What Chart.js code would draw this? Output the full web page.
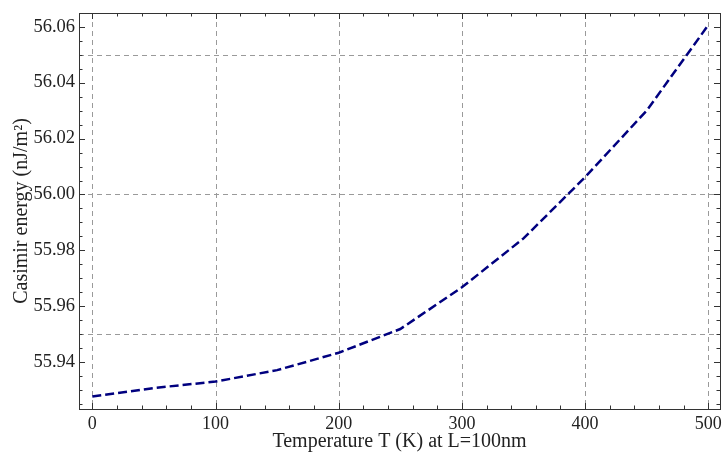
<!DOCTYPE html>
<html>
<head>
<meta charset="utf-8">
<script src="https://cdn.jsdelivr.net/npm/chart.js@4.4.0/dist/chart.umd.min.js"></script>
<style>
  html, body { margin: 0; padding: 0; background: #fff; }
</style>
</head>
<body>
<canvas id="chart" width="723" height="457"></canvas>
<script>
// values
const temps = [0, 50, 100, 150, 200, 250, 300, 350, 400, 450, 500]
const energy = [55.9278, 55.9308, 55.9331, 55.9372, 55.9434, 55.9519, 55.9668, 55.9843, 56.0062, 56.0300, 56.0606]
const xTicks = [0, 100, 200, 300, 400, 500]
const yTicks = [55.94, 55.96, 55.98, 56.00, 56.02, 56.04, 56.06]
const xGrid = [0, 100, 200, 300, 400, 500]
const yGrid = [55.95, 56.00, 56.05]

const serif = "'Liberation Serif', 'DejaVu Serif', serif"

// dashed grid + frame with inward ticks, drawn through the chart's scales
const framePlugin = {
  id: 'frame',
  beforeDatasetsDraw(chart) {
    const ctx = chart.ctx
    const a = chart.chartArea
    const x = chart.scales.x
    const y = chart.scales.y
    ctx.save()
    ctx.strokeStyle = '#9a9a9a'
    ctx.lineWidth = 1
    ctx.setLineDash([5, 4])
    xGrid.forEach(v => {
      const px = Math.round(x.getPixelForValue(v)) + 0.5
      ctx.beginPath(); ctx.moveTo(px, a.top); ctx.lineTo(px, a.bottom); ctx.stroke()
    })
    yGrid.forEach(v => {
      const py = Math.round(y.getPixelForValue(v)) + 0.5
      ctx.beginPath(); ctx.moveTo(a.left, py); ctx.lineTo(a.right, py); ctx.stroke()
    })
    ctx.restore()
  },
  afterDraw(chart) {
    const ctx = chart.ctx
    const a = chart.chartArea
    const x = chart.scales.x
    const y = chart.scales.y
    ctx.save()
    ctx.strokeStyle = '#333'
    ctx.lineWidth = 1
    ctx.setLineDash([])
    ctx.strokeRect(Math.round(a.left) + 0.5, Math.round(a.top) + 0.5, Math.round(a.right - a.left), Math.round(a.bottom - a.top))
    ctx.beginPath()
    for (let v = 0; v <= 500; v += 20) {
      const px = Math.round(x.getPixelForValue(v)) + 0.5
      const len = v % 100 === 0 ? 6 : 3.5
      ctx.moveTo(px, a.bottom); ctx.lineTo(px, a.bottom - len)
      ctx.moveTo(px, a.top); ctx.lineTo(px, a.top + len)
    }
    for (let i = 0; i <= 28; i++) {
      const v = 55.925 + i * 0.005
      const py = Math.round(y.getPixelForValue(v)) + 0.5
      const len = i % 4 === 3 ? 6 : 3.5
      ctx.moveTo(a.left, py); ctx.lineTo(a.left + len, py)
      ctx.moveTo(a.right, py); ctx.lineTo(a.right - len, py)
    }
    ctx.stroke()
    ctx.restore()
  }
}

new Chart(document.getElementById('chart'), {
  type: 'line',
  data: {
    datasets: [{
      data: temps.map((t, i) => ({ x: t, y: energy[i] })),
      borderColor: '#00007f',
      borderWidth: 2.5,
      borderDash: [9, 4],
      pointRadius: 0,
      tension: 0,
      fill: false
    }]
  },
  options: {
    responsive: false,
    animation: false,
    layout: { padding: { top: 13, right: 3, left: 0, bottom: 0 } },
    plugins: { legend: { display: false }, tooltip: { enabled: false } },
    scales: {
      x: {
        type: 'linear',
        min: -10.8,
        max: 509.5,
        grid: { display: false, drawTicks: false },
        border: { display: false },
        afterBuildTicks: s => { s.ticks = xTicks.map(v => ({ value: v })) },
        afterFit: s => { s.height = 48; s.paddingLeft = 0; s.paddingRight = 0 },
        ticks: { color: '#222', padding: 4, maxRotation: 0, font: { family: serif, size: 18 } },
        title: { display: true, text: 'Temperature T (K) at L=100nm', color: '#222', padding: { top: 0, bottom: 3 }, font: { family: serif, size: 20 } }
      },
      y: {
        min: 55.9233,
        max: 56.0649,
        grid: { display: false, drawTicks: false },
        border: { display: false },
        afterBuildTicks: s => { s.ticks = yTicks.map(v => ({ value: v })) },
        afterFit: s => { s.width = 79; s.paddingTop = 0; s.paddingBottom = 0 },
        ticks: { color: '#222', padding: 4, font: { family: serif, size: 18.5 }, callback: v => v.toFixed(2) },
        title: { display: true, text: 'Casimir energy (nJ/m²)', color: '#222', padding: { top: 10, bottom: 4 }, font: { family: serif, size: 20 } }
      }
    }
  },
  plugins: [framePlugin]
})
</script>
</body>
</html>
